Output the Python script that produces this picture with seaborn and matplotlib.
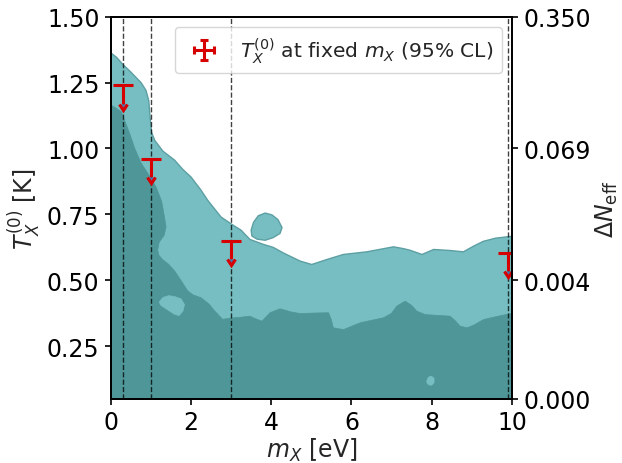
import numpy as np
import matplotlib
matplotlib.use("Agg")
import matplotlib.pyplot as plt
import seaborn as sns

# ---------------- data ----------------
# 95% region (light) upper boundary
outer_x = [0.0, 0.15, 0.30, 0.50, 0.76, 0.88, 0.95, 0.98, 1.02, 1.10, 1.30, 1.59, 1.80, 2.00, 2.25,
           2.42, 2.75, 3.00, 3.25, 3.47, 3.81, 4.05, 4.30, 4.72, 5.01, 5.39, 5.80, 6.38, 7.05,
           7.30, 7.46, 7.76, 8.05, 8.46, 8.79, 9.05, 9.29, 9.60, 10.0]
outer_T = [1.363, 1.345, 1.319, 1.29, 1.249, 1.22, 1.18, 1.12, 1.06, 1.030, 0.99, 0.956, 0.92, 0.892, 0.842,
           0.803, 0.740, 0.714, 0.69, 0.655, 0.636, 0.625, 0.604, 0.573, 0.560, 0.579, 0.598, 0.608, 0.627,
           0.620, 0.614, 0.598, 0.617, 0.613, 0.608, 0.630, 0.648, 0.660, 0.667]

# 68% region (dark) upper boundary
inner_x = [0.0, 0.26, 0.47, 0.60, 0.76, 0.95, 1.13, 1.27, 1.34, 1.38, 1.33, 1.21, 1.17, 1.20,
           1.30, 1.45, 1.59, 1.75, 1.92, 2.05, 2.25, 2.45, 2.59, 2.79, 3.00, 3.25, 3.47, 3.60,
           3.77, 3.97, 4.22, 4.50, 4.72, 5.10, 5.43, 5.50, 5.55, 5.80, 6.22, 6.80, 7.00, 7.13,
           7.34, 7.50, 7.63, 7.84, 8.46, 8.60, 8.71, 8.88, 9.05, 9.29, 9.60, 10.0]
inner_T = [1.166, 1.140, 1.058, 1.0, 0.944, 0.90, 0.854, 0.80, 0.740, 0.702, 0.67, 0.645, 0.615, 0.595,
           0.578, 0.56, 0.536, 0.50, 0.460, 0.445, 0.434, 0.41, 0.384, 0.352, 0.357, 0.360, 0.364, 0.355,
           0.345, 0.377, 0.392, 0.38, 0.374, 0.376, 0.377, 0.35, 0.320, 0.313, 0.339, 0.358, 0.375, 0.402,
           0.421, 0.405, 0.383, 0.370, 0.364, 0.345, 0.326, 0.320, 0.33, 0.351, 0.362, 0.375]

# isolated 95% island above the main region
island_x = [3.50, 3.56, 3.68, 3.85, 4.02, 4.17, 4.27, 4.22, 4.05, 3.85, 3.65, 3.52]
island_T = [0.69, 0.72, 0.745, 0.755, 0.748, 0.73, 0.70, 0.678, 0.662, 0.652, 0.656, 0.668]

# holes in the 68% region
hole1_x = [1.21, 1.30, 1.45, 1.60, 1.75, 1.84, 1.80, 1.70, 1.58, 1.40, 1.25]
hole1_T = [0.418, 0.435, 0.442, 0.438, 0.43, 0.408, 0.383, 0.366, 0.372, 0.39, 0.405]
hole2_x = [7.88, 7.92, 8.00, 8.06, 8.06, 8.00, 7.92, 7.88]
hole2_T = [0.120, 0.133, 0.136, 0.128, 0.112, 0.102, 0.104, 0.112]

# upper limits at fixed m_X
lim_m = [0.3, 1.0, 3.0, 9.9]
lim_T = [1.24, 0.96, 0.65, 0.605]
lim_arrow = [0.07, 0.07, 0.07, 0.07]
lim_xerr = [0.25, 0.25, 0.25, 0.25]

x_ticks = [0, 2, 4, 6, 8, 10]
y_ticks = [0.25, 0.50, 0.75, 1.00, 1.25, 1.50]
right_tick_T = [0.05, 0.5, 1.0, 1.5]
right_tick_labels = ["0.000", "0.004", "0.069", "0.350"]

T_min, T_max = 0.05, 1.5
m_min, m_max = 0.0, 10.0

# ---------------- style ----------------
FS = 17
sns.set_theme(style="ticks", rc={
    "axes.linewidth": 1.3,
    "xtick.major.size": 4.5, "ytick.major.size": 4.5,
    "xtick.major.width": 1.2, "ytick.major.width": 1.2,
    "xtick.color": "black", "ytick.color": "black",
    "axes.edgecolor": "black",
    "font.size": FS,
})
plt.rcParams["font.family"] = ["DejaVu Sans"]
plt.rcParams["mathtext.fontset"] = "dejavusans"

light = "#76bec1"
dark = "#4f9699"
edge = "#5d9fa3"
red = "#d60000"

fig = plt.figure(figsize=(6.22, 4.64), dpi=100)
ax = fig.add_axes([0.178, 0.138, 0.645, 0.824])

# 95% region
ox = [m_min] + outer_x + [m_max]
oy = [T_min] + outer_T + [T_min]
ax.fill(ox, oy, facecolor=light, edgecolor=edge, linewidth=1.0, zorder=1)
ax.fill(island_x, island_T, facecolor=light, edgecolor=edge, linewidth=1.0, zorder=1)

# 68% region
ix = [m_min] + inner_x + [m_max]
iy = [T_min] + inner_T + [T_min]
ax.fill(ix, iy, facecolor=dark, edgecolor=dark, linewidth=0.5, zorder=2)
ax.fill(hole1_x, hole1_T, facecolor=light, edgecolor=light, linewidth=0.5, zorder=3)
ax.fill(hole2_x, hole2_T, facecolor=light, edgecolor=light, linewidth=0.5, zorder=3)

# vertical dashed lines
for m in lim_m:
    ax.axvline(m, color="black", linestyle="--", linewidth=1.0, alpha=0.75, zorder=4)

# upper limits
ax.errorbar(lim_m, lim_T, xerr=lim_xerr, yerr=lim_arrow, uplims=True, fmt="none",
            ecolor=red, elinewidth=2.2, capthick=2.2, zorder=5,
            label=r"$T_X^{(0)}$ at fixed $m_X$ (95% CL)")

ax.set_xlim(m_min, m_max)
ax.set_ylim(T_min, T_max)
ax.set_xticks(x_ticks)
ax.set_yticks(y_ticks)
ax.tick_params(labelsize=FS)
ax.set_xlabel(r"$m_X$ [eV]", fontsize=FS, labelpad=1)
ax.set_ylabel(r"$T_X^{(0)}$ [K]", fontsize=FS, labelpad=3)

ax.legend(loc="upper right", fontsize=14.6, handlelength=2.0)

ax2 = ax.twinx()
ax2.set_ylim(T_min, T_max)
ax2.set_yticks(right_tick_T)
ax2.set_yticklabels(right_tick_labels)
ax2.tick_params(labelsize=FS)
ax2.set_ylabel(r"$\Delta N_{\rm eff}$", fontsize=FS, labelpad=2)
for s in ax2.spines.values():
    s.set_linewidth(1.3)

fig.savefig("out.png", dpi=100)
